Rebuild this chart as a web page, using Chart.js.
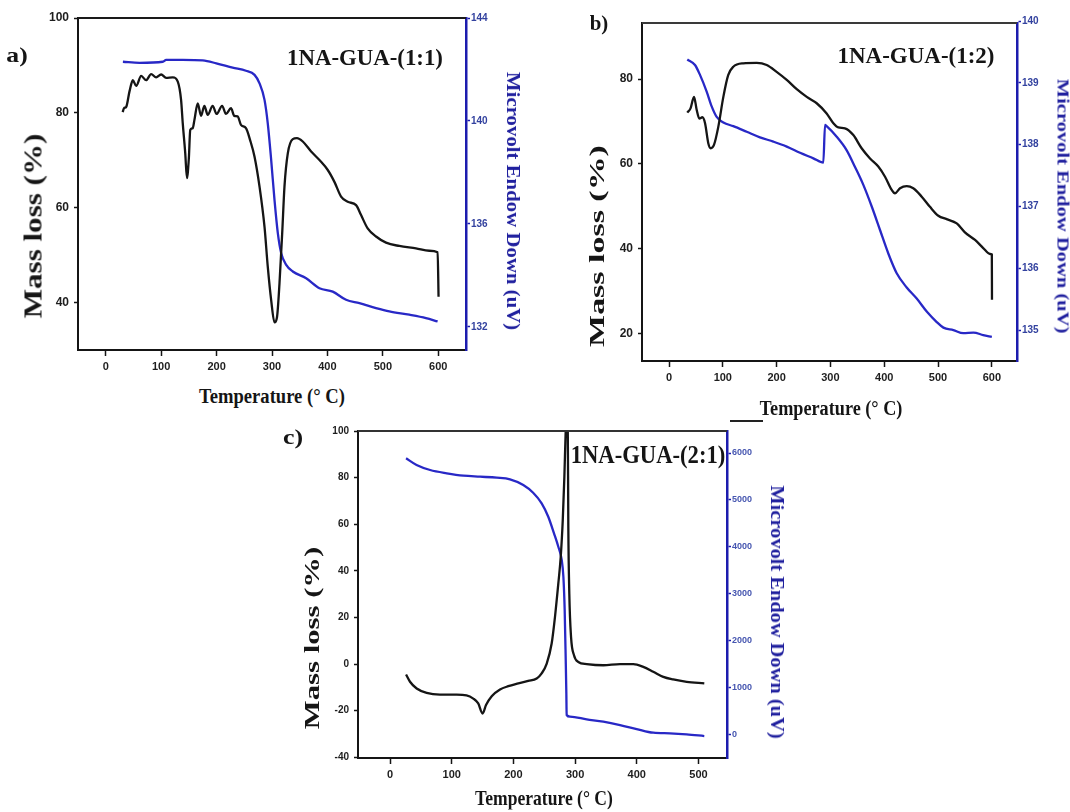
<!DOCTYPE html>
<html lang="en">
<head>
  <meta charset="UTF-8" />
  <title>1NA-GUA thermal analysis</title>
  <script src="https://cdn.jsdelivr.net/npm/chart.js"></script>
  <style>
    * { margin: 0; padding: 0; box-sizing: border-box; }
    body {
      width: 1070px;
      height: 812px;
      background: #fff;
      position: relative;
      overflow: hidden;
      font-family: 'Liberation Serif', 'Times New Roman', serif;
    }
    canvas { position: absolute; }
    /* text overlays: centred on (left, top), stretched to data-len by the script */
    .lbl {
      position: absolute;
      white-space: nowrap;
      font-weight: bold;
      color: #151515;
      line-height: 1;
      transform-origin: center center;
    }
    .lbl.blue { color: #1f1f9e; }
    .stray {
      position: absolute;
      left: 730px;
      top: 420px;
      width: 33px;
      height: 2px;
      background: #222;
    }
  </style>
</head>
<body>
  <canvas id="panelA" width="520" height="385" style="left:0;top:0"></canvas>
  <canvas id="panelB" width="500" height="395" style="left:560px;top:0"></canvas>
  <canvas id="panelC" width="500" height="385" style="left:270px;top:410px"></canvas>

  <!-- panel a -->
  <div class="lbl" data-len="21" style="left:17px;top:55px;font-size:22px">a)</div>
  <div class="lbl" data-len="156" style="left:365px;top:57px;font-size:24px">1NA-GUA-(1:1)</div>
  <div class="lbl" data-len="146" style="left:272px;top:396px;font-size:20px">Temperature (° C)</div>
  <div class="lbl" data-len="185" data-rot="-90" style="left:33px;top:226px;font-size:25px">Mass loss (%)</div>
  <div class="lbl blue" data-len="258" data-rot="90" style="left:513px;top:201px;font-size:18px">Microvolt Endow Down (uV)</div>

  <!-- panel b -->
  <div class="lbl" data-len="19" style="left:599px;top:23px;font-size:22px">b)</div>
  <div class="lbl" data-len="157" style="left:916px;top:55px;font-size:24px">1NA-GUA-(1:2)</div>
  <div class="lbl" data-len="143" style="left:831px;top:408px;font-size:20px">Temperature (° C)</div>
  <div class="lbl" data-len="202" data-rot="-90" style="left:597px;top:246px;font-size:20px">Mass loss (%)</div>
  <div class="lbl blue" data-len="255" data-rot="90" style="left:1063px;top:206px;font-size:17px">Microvolt Endow Down (uV)</div>

  <!-- panel c -->
  <div class="lbl" data-len="20" style="left:293px;top:437px;font-size:22px">c)</div>
  <div class="lbl" data-len="155" style="left:648px;top:455px;font-size:26px">1NA-GUA-(2:1)</div>
  <div class="lbl" data-len="138" style="left:544px;top:798px;font-size:21px">Temperature (° C)</div>
  <div class="lbl" data-len="183" data-rot="-90" style="left:312px;top:638px;font-size:22px">Mass loss (%)</div>
  <div class="lbl blue" data-len="253" data-rot="90" style="left:777px;top:612px;font-size:18px">Microvolt Endow Down (uV)</div>

  <div class="stray"></div>

  <script>
    // ---- a) 1NA-GUA-(1:1) ----
    const tempA = [30.6, 33, 37, 43, 49, 55, 64, 73, 82, 91, 100, 109, 121, 130, 136, 139, 143.5, 146.5, 150, 152.5,
      157, 160, 166, 172, 178, 184, 193, 200, 210, 217, 226, 232, 238, 244, 253, 260.5, 268.5, 277.5, 286.5, 292.4,
      298.5, 304.5, 309, 313.5, 318.4, 322.5, 328.5, 337.5, 345, 355.5, 370.6, 385.6, 400.6, 412.6, 424.6, 436.6,
      451.7, 460.7, 472.6, 487.7, 505.7, 529.7, 559.8, 583.8, 598.8, 600.5];
    const massA = [80.2, 81, 81.3, 84.6, 86.9, 85.7, 87.8, 86.9, 88.2, 87.5, 88.1, 87.4, 87.5, 86.6, 82.7, 77.8, 71.5, 66.3, 70.5, 76.4,
      76.8, 78.5, 82, 79.4, 81.5, 79.6, 81.5, 79.8, 81.5, 79.8, 81, 79.4, 79.3, 77.5, 76.8, 74.3, 70.8, 64.5, 56, 47.6,
      40.6, 35.9, 37, 44.1, 54.7, 64.5, 71.5, 74.5, 74.7, 74, 71.9, 70.1, 68, 65.5, 62.4, 61.3,
      60.6, 58.5, 55.7, 54, 52.7, 52, 51.5, 51, 50.7, 41.3];
    const dscTempA = [31, 61, 103, 109, 139, 175, 199.5, 229, 253, 268.5, 277.5, 286.5, 292.4, 298.5, 304.5, 310.5,
      316.6, 325.6, 337.5, 361.6, 385.6, 409.6, 433.6, 457.7, 487.7, 511.7, 547.7, 577.8, 598.8];
    const dscA = [142.3, 142.26, 142.3, 142.37, 142.37, 142.35, 142.24, 142.07, 141.95, 141.79, 141.46, 140.82, 139.9, 138.49, 136.93, 135.64,
      134.86, 134.41, 134.15, 133.89, 133.5, 133.37, 133.05, 132.92, 132.73, 132.6, 132.47, 132.34, 132.21];
    const xTicksA = [0, 100, 200, 300, 400, 500, 600];
    const massTicksA = [40, 60, 80, 100];
    const dscTicksA = [132, 136, 140, 144];

    // ---- b) 1NA-GUA-(1:2) ----
    const tempB = [34, 40, 46.5, 51.5, 56.3, 62, 67, 73, 77.5, 83.6, 91.7, 101, 110, 119.5, 138, 163, 181.6, 200, 218.8, 237.4,
      256, 274.5, 293, 305.5, 314.7, 327, 342.6, 358, 373.6, 389, 401.5, 414, 420, 429.4, 441.8, 454, 469.7, 485,
      500.6, 516, 534.8, 550, 568.8, 584, 596.7, 600, 600.3];
    const massB = [72.1, 73.1, 75.8, 72.7, 70.7, 71, 69.6, 64.9, 63.7, 64.5, 68.8, 75.8, 80.9, 82.9, 83.7, 83.8, 83.3, 81.7, 79.8, 77.6,
      75.8, 74.3, 71.9, 69.6, 68.6, 68.4, 66.8, 63.7, 61.3, 59.4, 57, 53.9, 53.1, 54.3, 54.8, 54.3, 52.3, 49.9,
      47.8, 47, 46, 43.9, 42.1, 40.2, 38.8, 38.7, 28];
    const dscTempB = [34, 48.3, 57.6, 70, 79.3, 88.6, 101, 119.5, 144.4, 169, 193.9, 218.8, 243.5, 268.3, 286.8,
      290, 293, 311.7, 330.3, 345.7, 361.2, 376.8, 392.2, 407.6, 423.2, 441.8, 460.4, 479, 497.6, 510, 528.6, 547, 565.8, 584, 600];
    const dscB = [139.38, 139.29, 139.13, 138.86, 138.62, 138.45, 138.36, 138.3, 138.21, 138.12, 138.05, 137.97, 137.87, 137.78, 137.71,
      138.32, 138.3, 138.13, 137.91, 137.64, 137.35, 137, 136.62, 136.24, 135.92, 135.69, 135.51, 135.3, 135.13, 135.04, 135, 134.95, 134.96, 134.92, 134.89];
    const xTicksB = [0, 100, 200, 300, 400, 500, 600];
    const massTicksB = [20, 40, 60, 80];
    const dscTicksB = [135, 136, 137, 138, 139, 140];

    // ---- c) 1NA-GUA-(2:1) ----
    const tempC = [26, 32.4, 43.2, 59.4, 81, 108, 124, 135, 143, 150, 155.6, 164.8, 178.3, 191.7, 208, 224, 237.7, 245.8, 254, 262,
      267.4, 272.8, 276.7, 280, 282.6, 284.8, 286, 288, 289, 290.6, 293.4, 298.2, 305.2, 318.8, 345.7, 372.8, 394.4,
      410.5, 426.7, 443, 459, 480.9, 509.4];
    const massC = [-4.5, -7.6, -10.5, -12.4, -13.1, -13.1, -13.4, -14.8, -16.9, -21.2, -17.6, -13.8, -10.9, -9.5, -8.3, -7.2, -6.2, -4, 0.2, 8.8,
      20.3, 34.6, 46, 61.8, 80.4, 100.4, 106, 106, 58.9, 30.3, 11.7, 3.8, 0.9, 0, -0.5, 0, 0,
      -1.2, -3.3, -5.5, -6.6, -7.6, -8.3];
    const dscTempC = [26, 43, 65, 92, 119, 146, 173, 194.5, 216, 232, 245.8, 256.5, 265.8, 272.8, 278.3, 281, 283.1, 284.8, 285.8, 286.3,
      291.7, 318.8, 345.7, 372.8, 399.8, 426.8, 453.8, 480.8, 509.4];
    const dscC = [5887, 5744, 5637, 5566, 5515, 5494, 5473, 5438, 5317, 5152, 4926, 4640, 4285, 3999, 3715, 3359, 2648, 1580, 869, 406,
      370, 313, 263, 192, 107, 28, 15, -6, -43];
    const xTicksC = [0, 100, 200, 300, 400, 500];
    const massTicksC = [-40, -20, 0, 20, 40, 60, 80, 100];
    const dscTicksC = [0, 1000, 2000, 3000, 4000, 5000, 6000];

    const INK = '#151515';
    const BLUE = '#2828c6';
    const BLUE_AXIS = '#1c1cae';
    Chart.defaults.font.family = "'Liberation Sans', Arial, sans-serif";

    function series(xs, ys) {
      return xs.map((x, i) => ({ x: x, y: ys[i] }));
    }
    function fixTicks(list) {
      return scale => { scale.ticks = list.map(v => ({ value: v })); };
    }

    // top edge of the frame
    const frameTop = {
      id: 'frameTop',
      afterDraw(chart, args, opts) {
        const { ctx, chartArea } = chart;
        ctx.save();
        ctx.strokeStyle = opts.color;
        ctx.lineWidth = opts.width;
        ctx.beginPath();
        ctx.moveTo(chartArea.left, chartArea.top);
        ctx.lineTo(chartArea.right, chartArea.top);
        ctx.stroke();
        ctx.restore();
      }
    };

    function panel(id, p) {
      return new Chart(document.getElementById(id), {
        type: 'scatter',
        data: {
          datasets: [
            { data: series(p.massT, p.mass), yAxisID: 'y', showLine: true, borderColor: INK, borderWidth: 2.3 },
            { data: series(p.dscT, p.dsc), yAxisID: 'y1', showLine: true, borderColor: BLUE, borderWidth: 2.3 }
          ]
        },
        options: {
          responsive: false,
          animation: false,
          elements: {
            point: { radius: 0 },
            line: { cubicInterpolationMode: 'monotone' }
          },
          layout: { padding: { top: p.padTop, left: 0, right: 0, bottom: 0 } },
          plugins: {
            legend: { display: false },
            tooltip: { enabled: false },
            frameTop: { color: p.topColor, width: 2 }
          },
          scales: {
            x: {
              type: 'linear',
              min: p.xMin, max: p.xMax,
              afterBuildTicks: fixTicks(p.xTicks),
              afterFit: s => { s.height = p.xH; },
              border: { color: INK, width: 2 },
              grid: { drawOnChartArea: false, color: INK, tickLength: 6, tickWidth: 1.5 },
              ticks: { autoSkip: false, maxRotation: 0, padding: 4, color: '#1e1e1e',
                       font: { size: 11, weight: 'bold' }, callback: v => v }
            },
            y: {
              position: 'left',
              min: p.yMin, max: p.yMax,
              afterBuildTicks: fixTicks(p.yTicks),
              afterFit: s => { s.width = p.yW; },
              border: { color: INK, width: 2 },
              grid: { drawOnChartArea: false, color: INK, tickLength: 4, tickWidth: 1.5 },
              ticks: { padding: 5, color: '#1e1e1e', font: { size: p.yFont, weight: 'bold' }, callback: v => v }
            },
            y1: {
              position: 'right',
              min: p.y1Min, max: p.y1Max,
              afterBuildTicks: fixTicks(p.y1Ticks),
              afterFit: s => { s.width = p.y1W; },
              border: { color: BLUE_AXIS, width: 2.5 },
              grid: { drawOnChartArea: false, color: BLUE_AXIS, tickLength: 4, tickWidth: 1.5 },
              ticks: { padding: 1, color: p.y1Color, font: { size: p.y1Font, weight: 'bold' }, callback: v => v }
            }
          }
        },
        plugins: [frameTop]
      });
    }

    panel('panelA', {
      massT: tempA, mass: massA, dscT: dscTempA, dsc: dscA,
      xMin: -50, xMax: 650, xTicks: xTicksA,
      yMin: 30.1, yMax: 100, yTicks: massTicksA,
      y1Min: 131.1, y1Max: 144, y1Ticks: dscTicksA,
      padTop: 18, xH: 35, yW: 78, y1W: 54,
      yFont: 12, y1Font: 10, y1Color: '#33429f', topColor: '#1a1a1a'
    });

    panel('panelB', {
      massT: tempB, mass: massB, dscT: dscTempB, dsc: dscB,
      xMin: -50.2, xMax: 646.8, xTicks: xTicksB,
      yMin: 13.6, yMax: 93.2, yTicks: massTicksB,
      y1Min: 134.5, y1Max: 139.97, y1Ticks: dscTicksB,
      padTop: 23, xH: 34, yW: 82, y1W: 43,
      yFont: 12, y1Font: 10, y1Color: '#33429f', topColor: '#3a3a3a'
    });

    panel('panelC', {
      massT: tempC, mass: massC, dscT: dscTempC, dsc: dscC,
      xMin: -51.9, xMax: 546.2, xTicks: xTicksC,
      yMin: -40.3, yMax: 100, yTicks: massTicksC,
      y1Min: -512, y1Max: 6470, y1Ticks: dscTicksC,
      padTop: 21, xH: 37, yW: 88, y1W: 43,
      yFont: 10, y1Font: 9, y1Color: '#4656b0', topColor: '#333'
    });

    // stretch the overlay texts to the lengths seen in the figure
    document.querySelectorAll('.lbl').forEach(el => {
      const len = +el.dataset.len;
      const rot = +(el.dataset.rot || 0);
      const k = len / el.offsetWidth;
      el.style.transform = `translate(-50%, -50%) rotate(${rot}deg) scaleX(${k})`;
    });
  </script>
</body>
</html>
